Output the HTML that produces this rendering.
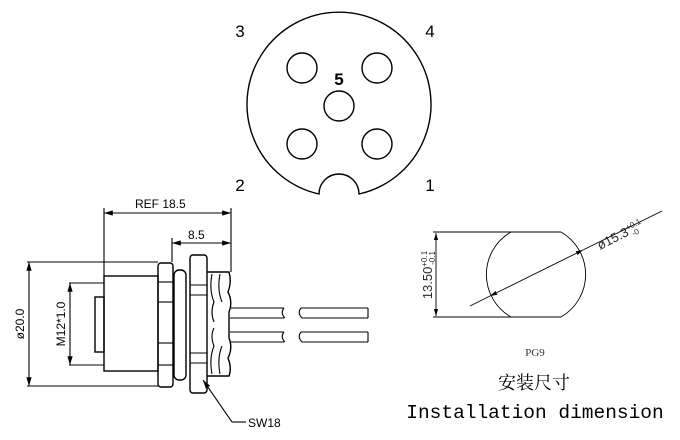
<!DOCTYPE html>
<html><head><meta charset="utf-8"><style>
html,body{margin:0;padding:0;background:#fff;}
svg{display:block;}
</style></head><body>
<svg width="680" height="440" viewBox="0 0 680 440" xmlns="http://www.w3.org/2000/svg">
<defs>
<marker id="ar" viewBox="0 0 10 6" refX="10" refY="3" markerWidth="8" markerHeight="5" orient="auto-start-reverse"><path d="M0,0 L10,3 L0,6 z" fill="#000"/></marker>
</defs>
<g fill="none" stroke="#000" stroke-width="1.4">
<!-- top connector face -->
<path d="M319,194 A92,92 0 1 1 359,194 A20,20 0 0 0 319,194 Z"/>
<circle cx="302" cy="68" r="15"/>
<circle cx="377" cy="68" r="15"/>
<circle cx="339" cy="106" r="15"/>
<circle cx="302" cy="144" r="15"/>
<circle cx="377" cy="144" r="15"/>
</g>
<g font-family="Liberation Sans, sans-serif" font-size="17" fill="#000" text-anchor="middle">
<text x="240" y="37">3</text><text x="430" y="37">4</text>
<text x="240" y="191">2</text><text x="430" y="191">1</text>
<text x="339" y="85" font-weight="bold">5</text>
</g>
<!-- side view -->
<g fill="none" stroke="#000" stroke-width="1.1">
<line x1="104" y1="213" x2="231" y2="213" marker-start="url(#ar)" marker-end="url(#ar)"/>
<line x1="104" y1="208" x2="104" y2="276"/>
<line x1="231" y1="208" x2="231" y2="272"/>
<line x1="172" y1="243" x2="231" y2="243" marker-start="url(#ar)" marker-end="url(#ar)"/>
<line x1="172" y1="238" x2="172" y2="262"/>
<line x1="27" y1="262" x2="158" y2="262"/>
<line x1="27" y1="386" x2="158" y2="386"/>
<line x1="29" y1="262" x2="29" y2="386" marker-start="url(#ar)" marker-end="url(#ar)"/>
<line x1="69" y1="283" x2="104" y2="283"/>
<line x1="69" y1="365" x2="104" y2="365"/>
<line x1="70" y1="283" x2="70" y2="365" marker-start="url(#ar)" marker-end="url(#ar)"/>
<rect x="104" y="276" width="54" height="95" stroke-width="1.4"/>
<rect x="95" y="297" width="9" height="55" stroke-width="1.4"/>
<rect x="158" y="263" width="15" height="124" rx="3" stroke-width="1.4"/>
<line x1="158" y1="282" x2="173" y2="282"/><line x1="158" y1="302" x2="173" y2="302"/>
<line x1="158" y1="343" x2="173" y2="343"/><line x1="158" y1="365" x2="173" y2="365"/>
<rect x="174" y="270" width="12" height="110" rx="5" stroke-width="1.4"/>
<rect x="190" y="255" width="17" height="138" rx="3" stroke-width="1.4"/>
<line x1="190" y1="285" x2="207" y2="285"/><line x1="190" y1="295" x2="207" y2="295"/>
<line x1="190" y1="353" x2="207" y2="353"/><line x1="190" y1="363" x2="207" y2="363"/>
<path d="M207,272 L229,272 Q232,282 228,292 Q233,302 229,312 L229,338 Q233,348 228,358 Q232,368 229,376 L207,376" stroke-width="1.4"/>
<path d="M212,274 Q209,290 214,302 Q210,312 214,322 M212,374 Q209,358 214,346 Q210,336 214,328" />
<path d="M220,274 Q217,290 222,302 M220,374 Q217,358 222,346"/>
<line x1="230" y1="308" x2="284" y2="308"/><line x1="230" y1="318" x2="284" y2="318"/>
<line x1="230" y1="332" x2="284" y2="332"/><line x1="230" y1="342" x2="284" y2="342"/>
<path d="M284,308 Q280,313 285,318 M284,332 Q280,337 285,342"/>
<path d="M301,308 Q297,313 302,318 M301,332 Q297,337 302,342"/>
<line x1="301" y1="308" x2="368" y2="308"/><line x1="302" y1="318" x2="368" y2="318"/>
<line x1="301" y1="332" x2="368" y2="332"/><line x1="302" y1="342" x2="368" y2="342"/>
<line x1="368" y1="308" x2="368" y2="318"/><line x1="368" y1="332" x2="368" y2="342"/>
<polyline points="232,422 203,380" marker-end="url(#ar)"/>
<line x1="232" y1="422" x2="246" y2="422"/>
</g>
<g font-family="Liberation Sans, sans-serif" font-size="12" fill="#000">
<text x="135" y="208">REF 18.5</text>
<text x="188" y="239">8.5</text>
<text x="248" y="427">SW18</text>
<text transform="translate(24,324) rotate(-90)" text-anchor="middle">ø20.0</text>
<text transform="translate(65,324) rotate(-90)" text-anchor="middle">M12*1.0</text>
</g>
<!-- PG9 -->
<g fill="none" stroke="#000" stroke-width="0.9">
<line x1="433" y1="232" x2="511" y2="232"/>
<line x1="433" y1="317" x2="511" y2="317"/>
<line x1="511" y1="232" x2="561" y2="232"/>
<line x1="511" y1="317" x2="561" y2="317"/>
<path d="M511,232 A49,49 0 0 0 511,317 M561,232 A49,49 0 0 1 561,317"/>
<line x1="436" y1="233" x2="436" y2="316" marker-start="url(#ar)" marker-end="url(#ar)"/>
<line x1="470" y1="306" x2="490" y2="296"/>
<line x1="490" y1="296" x2="583" y2="250" marker-start="url(#ar)" marker-end="url(#ar)"/>
<line x1="583" y1="250" x2="662" y2="211"/>
</g>
<g font-family="Liberation Sans, sans-serif" fill="#000" fill-opacity="0.85">
<text transform="translate(432,275) rotate(-90)" text-anchor="middle" font-size="13">13.50<tspan font-size="8" dy="-5">+0.1</tspan><tspan font-size="8" dx="-14" dy="8">-0.1</tspan></text>
<text transform="translate(600,250) rotate(-27)" font-size="13">ø15.3<tspan font-size="8" dy="-5">+0.1</tspan><tspan font-size="8" dx="-13" dy="8">-0</tspan></text>
</g>
<text x="535" y="356" font-family="Liberation Serif, serif" font-size="11" text-anchor="middle" fill="#333">PG9</text>
<text x="534" y="389" font-family="Liberation Serif, 'Noto Serif CJK SC', serif" font-size="18" text-anchor="middle" fill="#000">安装尺寸</text>
<text x="535" y="418" font-family="Liberation Mono, monospace" font-size="19.5" text-anchor="middle" fill="#000">Installation dimension</text>
</svg>
</body></html>
